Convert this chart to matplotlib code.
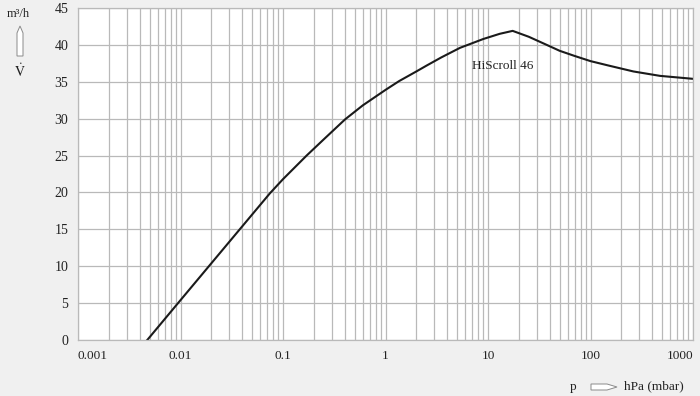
import matplotlib
matplotlib.use("Agg")
import matplotlib.pyplot as plt
from matplotlib.patches import Polygon
from matplotlib.ticker import FixedLocator, NullFormatter

# Data
pressure_hpa = [0.00474, 0.01, 0.02, 0.04, 0.0747, 0.1, 0.17, 0.25, 0.403, 0.6, 1.0, 1.36,
                2.0, 2.52, 3.5, 5.33, 9.0, 13.0, 17.4, 25.0, 37.4, 50.0, 70.0, 100.0,
                150.0, 262.0, 477.0, 1000.0]
flow_m3h = [0.0, 5.4, 10.4, 15.4, 19.9, 21.8, 25.0, 27.2, 29.9, 31.8, 33.9, 35.1,
            36.4, 37.2, 38.3, 39.6, 40.8, 41.5, 41.9, 41.1, 40.0, 39.2, 38.5, 37.8,
            37.2, 36.4, 35.8, 35.4]
x_ticks = [0.001, 0.01, 0.1, 1, 10, 100, 1000]
x_tick_labels = ["0.001", "0.01", "0.1", "1", "10", "100", "1000"]
y_ticks = [0, 5, 10, 15, 20, 25, 30, 35, 40, 45]
series_label = "HiScroll 46"

W, H = 700, 396
fig = plt.figure(figsize=(7.0, 3.96), dpi=100, facecolor="#f0f0f0")
ax = fig.add_axes([78 / W, 1 - 340 / H, (693 - 78) / W, (340 - 8) / H])
ax.set_facecolor("white")

serif = ["Liberation Serif", "DejaVu Serif"]
fs = 9.5
grid_c = "#b9b9b9"

ax.set_xscale("log")
ax.set_xlim(0.001, 1000)
ax.set_ylim(0, 45)

minor = [m * 10.0 ** e for e in range(-3, 3) for m in range(2, 10)]
ax.xaxis.set_major_locator(FixedLocator(x_ticks))
ax.xaxis.set_minor_locator(FixedLocator(minor))
ax.xaxis.set_minor_formatter(NullFormatter())
ax.set_yticks(y_ticks)
ax.set_xticklabels([])
ax.set_yticklabels([str(v) for v in y_ticks], fontfamily=serif, fontsize=fs + 0.5, color="#222222")
ax.tick_params(axis="both", which="both", length=0)
ax.tick_params(axis="y", pad=7)

ax.grid(True, which="major", axis="both", color=grid_c, lw=0.9)
ax.grid(True, which="minor", axis="x", color=grid_c, lw=0.9)
for s in ax.spines.values():
    s.set_color(grid_c)
    s.set_linewidth(0.9)

# x tick labels as text, keeping end labels inside
for v, lab in zip(x_ticks, x_tick_labels):
    ha = "center"
    if v == x_ticks[0]:
        ha = "left"
    elif v == x_ticks[-1]:
        ha = "right"
    ax.annotate(lab, xy=(v, 0), xycoords=("data", "axes fraction"),
                xytext=(0, -7), textcoords="offset points", ha=ha, va="top",
                fontfamily=serif, fontsize=fs, color="#222222")

ax.plot(pressure_hpa, flow_m3h, color="#1a1a1a", lw=1.5, solid_joinstyle="round")
ax.text(6.98, 37.1, series_label, fontfamily=serif, fontsize=fs, color="#222222",
        ha="left", va="center")
ax.set_xlim(0.001, 1000)

# Unit labels and arrows
fig.text(18 / W, 1 - 14 / H, "m³/h", fontfamily=serif, fontsize=fs - 0.5,
         ha="center", va="center", color="#222222")
plt.rcParams["mathtext.fontset"] = "stix"
fig.text(20 / W, 1 - 71 / H, r"$\dot{\mathrm{V}}$", fontsize=fs + 0.5,
         ha="center", va="center", color="#222222")
up = [(20, 26), (23, 33), (23, 56), (17, 56), (17, 33)]
fig.patches.append(Polygon([(x / W, 1 - y / H) for x, y in up], closed=True,
                           transform=fig.transFigure, facecolor="white",
                           edgecolor="#8a8a8a", lw=0.7))
fig.text(573 / W, 1 - 387 / H, "p", fontfamily=serif, fontsize=fs,
         ha="center", va="center", color="#222222")
right = [(591, 384), (607, 384), (617, 387), (607, 390), (591, 390)]
fig.patches.append(Polygon([(x / W, 1 - y / H) for x, y in right], closed=True,
                           transform=fig.transFigure, facecolor="white",
                           edgecolor="#8a8a8a", lw=0.7))
fig.text(624 / W, 1 - 386 / H, "hPa (mbar)", fontfamily=serif, fontsize=fs,
         ha="left", va="center", color="#222222")

fig.savefig("out.png", dpi=100, facecolor=fig.get_facecolor())
